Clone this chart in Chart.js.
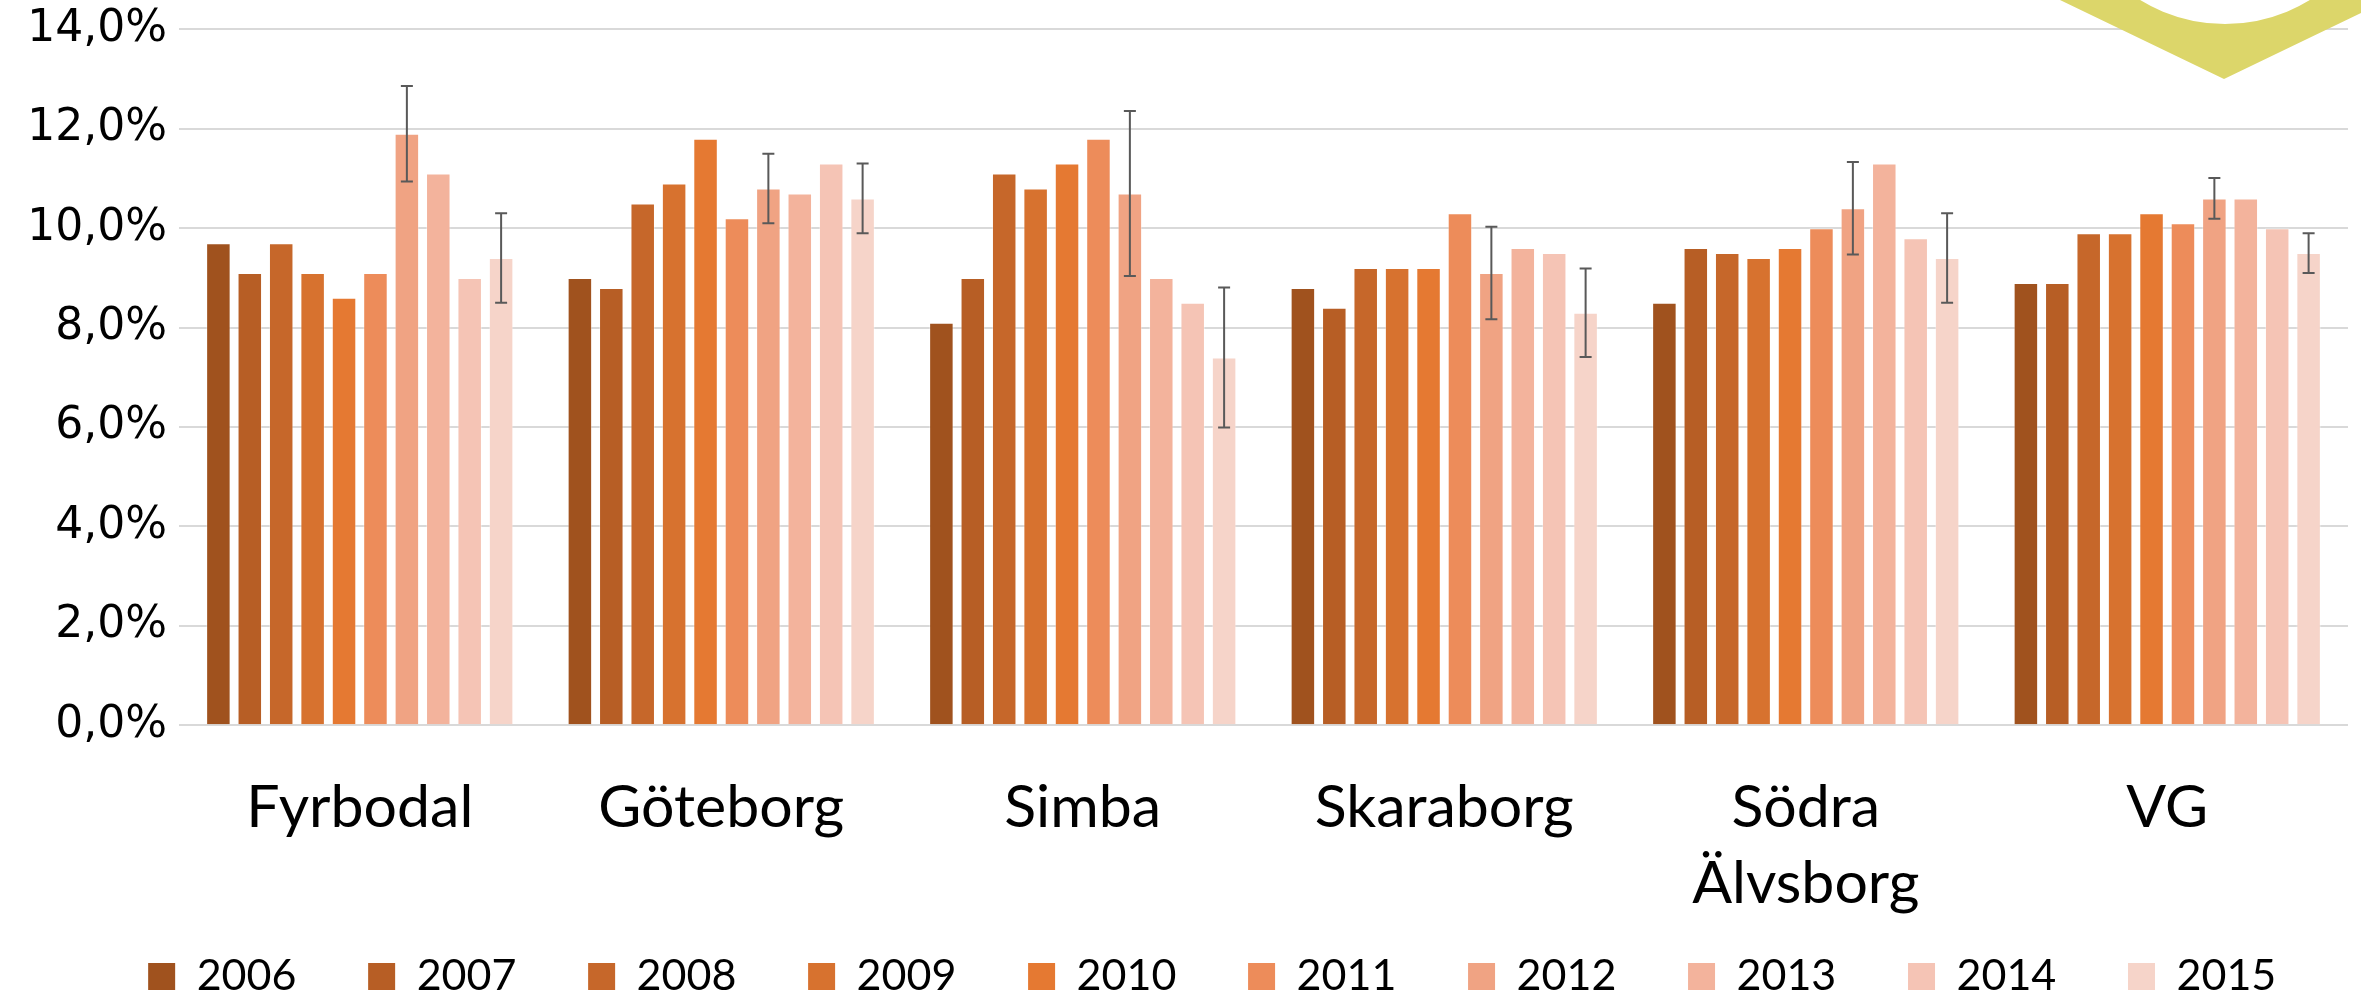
<!DOCTYPE html>
<html>
<head>
<meta charset="utf-8">
<script src="https://cdn.jsdelivr.net/npm/chart.js@4.4.1/dist/chart.umd.min.js"></script>
<style>
  html, body { margin: 0; padding: 0; background: #fff; }
  #wrap { width: 2361px; height: 996px; position: relative; }
</style>
</head>
<body>
<div id="wrap"><canvas id="chart"></canvas></div>
<script>
const regions = ['Fyrbodal', 'Göteborg', 'Simba', 'Skaraborg', ['Södra', 'Älvsborg'], 'VG'];
const years = ['2006', '2007', '2008', '2009', '2010', '2011', '2012', '2013', '2014', '2015'];

const v2006 = [9.7, 9.0, 8.1, 8.8, 8.5, 8.9];
const v2007 = [9.1, 8.8, 9.0, 8.4, 9.6, 8.9];
const v2008 = [9.7, 10.5, 11.1, 9.2, 9.5, 9.9];
const v2009 = [9.1, 10.9, 10.8, 9.2, 9.4, 9.9];
const v2010 = [8.6, 11.8, 11.3, 9.2, 9.6, 10.3];
const v2011 = [9.1, 10.2, 11.8, 10.3, 10.0, 10.1];
const v2012 = [11.9, 10.8, 10.7, 9.1, 10.4, 10.6];
const v2013 = [11.1, 10.7, 9.0, 9.6, 11.3, 10.6];
const v2014 = [9.0, 11.3, 8.5, 9.5, 9.8, 10.0];
const v2015 = [9.4, 10.6, 7.4, 8.3, 9.4, 9.5];

// +/- margins, only 2012 and 2015 have error bars
const err2012 = [0.96, 0.7, 1.66, 0.93, 0.93, 0.41];
const err2015 = [0.9, 0.7, 1.41, 0.89, 0.9, 0.4];

const yTicks = [0, 2, 4, 6, 8, 10, 12, 14];

const colors = ['#A0521E', '#B75E25', '#C6672A', '#D7722F', '#E57932',
                '#ED8C5A', '#F0A383', '#F3B39C', '#F5C4B5', '#F6D4C9'];
const series = [v2006, v2007, v2008, v2009, v2010, v2011, v2012, v2013, v2014, v2015];
const errors = {2012: err2012, 2015: err2015};

const errorBars = {
  id: 'errorBars',
  afterDatasetsDraw(chart) {
    const ctx = chart.ctx, y = chart.scales.y;
    ctx.save();
    ctx.strokeStyle = '#595959';
    ctx.lineWidth = 2;
    chart.data.datasets.forEach((ds, i) => {
      if (!ds.errors) return;
      chart.getDatasetMeta(i).data.forEach((bar, j) => {
        const top = y.getPixelForValue(ds.data[j] + ds.errors[j]);
        const bot = y.getPixelForValue(ds.data[j] - ds.errors[j]);
        ctx.beginPath();
        ctx.moveTo(bar.x, top); ctx.lineTo(bar.x, bot);
        ctx.moveTo(bar.x - 6, top); ctx.lineTo(bar.x + 6, top);
        ctx.moveTo(bar.x - 6, bot); ctx.lineTo(bar.x + 6, bot);
        ctx.stroke();
      });
    });
    ctx.restore();
  }
};

// yellow logo fragment peeking in at the top right corner
const logo = {
  id: 'logo',
  afterDraw(chart) {
    const ctx = chart.ctx, w = chart.width;
    ctx.save();
    ctx.beginPath();
    ctx.moveTo(w - 301, 0);
    ctx.lineTo(w - 137, 79);
    ctx.lineTo(w, 13);
    ctx.lineTo(w, 0);
    ctx.closePath();
    ctx.moveTo(w - 136 + 162, -138);
    ctx.arc(w - 136, -138, 162, 0, Math.PI * 2);
    ctx.fillStyle = '#DCD66A';
    ctx.fill('evenodd');
    ctx.restore();
  }
};

new Chart(document.getElementById('chart'), {
  type: 'bar',
  data: {
    labels: regions,
    datasets: years.map((yr, i) => ({
      label: yr,
      data: series[i],
      errors: errors[yr],
      backgroundColor: colors[i],
      borderColor: 'rgba(255,255,255,0.35)',
      borderWidth: 1,
      categoryPercentage: 0.869,
      barPercentage: 0.78
    }))
  },
  options: {
    responsive: true,
    maintainAspectRatio: false,
    animation: false,
    layout: { padding: { left: 0, right: 13, top: 27, bottom: -12 } },
    plugins: {
      legend: {
        position: 'bottom',
        align: 'end',
        labels: {
          boxWidth: 27,
          boxHeight: 27,
          padding: 38.7,
          color: '#000',
          font: { family: 'Lato', size: 43 },
          // trailing spaces widen each entry so the row spreads like the original
          generateLabels(chart) {
            return Chart.defaults.plugins.legend.labels.generateLabels(chart)
              .map(item => Object.assign(item, { text: item.text + '   ', lineWidth: 0 }));
          }
        }
      },
      tooltip: { enabled: false }
    },
    scales: {
      x: {
        grid: { display: false },
        border: { display: false },
        ticks: {
          color: '#000',
          padding: 36,
          maxRotation: 0,
          autoSkip: false,
          font: { family: 'Lato', size: 59, lineHeight: 1.3 }
        },
        afterFit(s) { s.height = 191; }
      },
      y: {
        min: 0,
        max: 14,
        grid: { color: '#D9D9D9', lineWidth: 2, drawTicks: true, tickLength: 9, tickColor: 'rgba(0,0,0,0)' },
        border: { display: false },
        afterBuildTicks(s) { s.ticks = yTicks.map(v => ({ value: v })); },
        ticks: {
          color: '#000',
          padding: 3,
          font: { family: "'DejaVu Sans'", size: 44 },
          callback: v => v.toFixed(1).replace('.', ',') + '%'
        },
        afterFit(s) { s.width = 179; }
      }
    }
  },
  plugins: [errorBars, logo]
});
</script>
</body>
</html>
